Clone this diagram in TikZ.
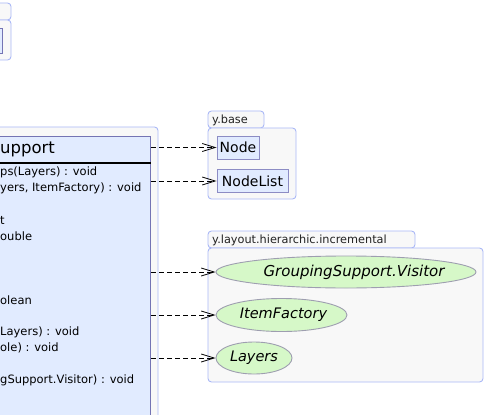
\documentclass[tikz,border=0pt]{standalone}
\usepackage{fontspec}
\setmainfont{DejaVu Sans}
\usetikzlibrary{shapes.geometric,arrows.meta}
\definecolor{pkgborder}{HTML}{AAB8F6}
\definecolor{pkgfill}{HTML}{F8F8F8}
\definecolor{clsfill}{HTML}{E1EBFF}
\definecolor{clsborder}{HTML}{7474B4}
\definecolor{boxborder}{HTML}{8C8CC4}
\definecolor{ifill}{HTML}{D6F8C8}
\definecolor{iborder}{HTML}{9E9EB0}
\definecolor{lbl}{HTML}{222222}
\begin{document}
\begin{tikzpicture}[x=1pt,y=-1pt,
  pkg/.style={draw=pkgborder,fill=pkgfill,line width=0.9pt,rounded corners=3.5pt},
  pkglabel/.style={anchor=west,inner sep=0pt,text=lbl,font=\fontsize{11.3}{13}\selectfont},
  clsbox/.style={draw=clsborder,fill=clsfill,line width=1pt,inner sep=0pt},
  member/.style={anchor=west,inner sep=0pt,font=\fontsize{11.5}{13}\selectfont},
  refbox/.style={draw=boxborder,fill=clsfill,line width=0.9pt,inner sep=0pt,minimum height=23pt,font=\fontsize{14}{16}\selectfont},
  iface/.style={ellipse,draw=iborder,fill=ifill,line width=0.9pt,inner sep=0pt,minimum height=32pt,font=\fontsize{14.5}{16}\selectfont\itshape},
  dep/.style={draw=black,line width=0.8pt,dash pattern=on 5pt off 3pt,-{Straight Barb[length=13pt,width=8pt,line width=0.8pt]}}
]
\useasboundingbox (0,0) rectangle (486,414);
\clip (0,0) rectangle (486,414);
% top-left package (cut off)
\draw[pkg] (-40,3) rectangle (11,20);
\draw[pkg] (-40,20) rectangle (11,60);
\node[clsbox,anchor=north east,minimum width=40pt,minimum height=25pt] (tl) at (2.5,28) {};
% main package with class
\draw[pkg] (-40,127) rectangle (158,460);
\node[clsbox,anchor=north east,minimum width=200pt,minimum height=320pt] (cls) at (151,136) {};
\node[anchor=west,inner sep=0pt,font=\fontsize{16.5}{19}\selectfont] (title) at (0,149.5) {upport};
\draw[line width=2pt] (-5,162.5) -- (150.5,162.5);
\node[member] (m1) at (0,172) {ps(Layers) : void};
\node[member] (m2) at (0,188) {yers, ItemFactory) : void};
\node[member] (m3) at (0,220) {t};
\node[member] (m4) at (0,236) {ouble};
\node[member] (m5) at (0,300) {olean};
\node[member] (m6) at (0,332) {Layers) : void};
\node[member] (m7) at (0,348) {ole) : void};
\node[member] (m8) at (0,380) {gSupport.Visitor) : void};
% y.base
\draw[pkg] (208,111) rectangle (264,128);
\node[pkglabel] (lbase) at (212,120) {y.base};
\draw[pkg] (208,128) rectangle (296,199);
\node[refbox,minimum width=42pt] (node) at (238,147.5) {Node};
\node[refbox,minimum width=71pt] (nodelist) at (252.5,181) {NodeList};
% y.layout.hierarchic.incremental
\draw[pkg] (208,231) rectangle (415,248);
\node[pkglabel] (linc) at (212,240) {y.layout.hierarchic.incremental};
\draw[pkg] (208,248) rectangle (483,382);
\node[iface,minimum width=260pt,font=\fontsize{15}{17}\selectfont\itshape] (gsv) at (346,272) {\makebox[0pt][c]{\hspace{16pt}GroupingSupport.Visitor}};
\node[iface,minimum width=131pt,minimum height=33pt] (itf) at (281.5,315) {\makebox[0pt][c]{\hspace{4pt}ItemFactory}};
\node[iface,minimum width=76pt] (lay) at (254,358) {Layers};
% dependencies
\draw[dep] (cls.east |- node.west) -- (node.west);
\draw[dep] (cls.east |- nodelist.west) -- (nodelist.west);
\draw[dep] (cls.east |- gsv.west) -- (gsv.west);
\draw[dep] (cls.east |- itf.west) -- (itf.west);
\draw[dep] (cls.east |- lay.west) -- (lay.west);
\end{tikzpicture}
\end{document}
